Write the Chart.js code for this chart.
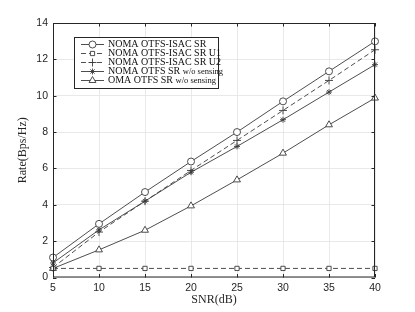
<!DOCTYPE html>
<html lang="en">
<head>
    <meta charset="UTF-8">
    <title>Rate vs SNR</title>
    <script src="https://cdn.jsdelivr.net/npm/chart.js"></script>
    <style>
        html, body { margin: 0; padding: 0; background: #fff; }
        #wrap { width: 415px; height: 312px; }
    </style>
</head>
<body>
    <div id="wrap"><canvas id="rateChart" width="415" height="312"></canvas></div>
    <script>
        // SNR points (dB)
        const snr = [5, 10, 15, 20, 25, 30, 35, 40];
        // rates (Bps/Hz)
        const nomaIsacSR = [1.1, 2.95, 4.7, 6.38, 8.0, 9.69, 11.34, 12.99];
        const nomaIsacU1 = [0.5, 0.5, 0.5, 0.5, 0.5, 0.5, 0.5, 0.5];
        const nomaIsacU2 = [0.55, 2.5, 4.2, 5.89, 7.54, 9.19, 10.84, 12.53];
        const nomaNoSense = [0.8, 2.62, 4.2, 5.79, 7.21, 8.68, 10.2, 11.71];
        const omaNoSense = [0.5, 1.52, 2.6, 3.94, 5.37, 6.84, 8.4, 9.87];
        const xTicks = [5, 10, 15, 20, 25, 30, 35, 40];
        const yTicks = [0, 2, 4, 6, 8, 10, 12, 14];

        const lineCol = '#3a3a3a';

        function series(label, values, style, dashed, radius) {
            return {
                label: label,
                data: snr.map((x, i) => ({ x: x, y: values[i] })),
                borderColor: lineCol,
                backgroundColor: '#fff',
                borderWidth: 0.9,
                borderDash: dashed ? [5, 3] : [],
                pointStyle: style,
                pointRadius: radius,
                pointBorderColor: lineCol,
                pointBackgroundColor: '#fff',
                pointBorderWidth: 0.9,
                tension: 0,
                fill: false,
                clip: false
            };
        }

        // box, inward ticks, titles and the legend
        const matlabLook = {
            id: 'matlabLook',
            afterDraw(chart) {
                const ctx = chart.ctx;
                const a = chart.chartArea;
                const xs = chart.scales.x, ys = chart.scales.y;
                ctx.save();
                ctx.strokeStyle = '#262626';
                ctx.lineWidth = 1;
                ctx.setLineDash([]);
                ctx.strokeRect(a.left + 0.5, a.top + 0.5, a.right - a.left - 1, a.bottom - a.top - 1);
                ctx.beginPath();
                xTicks.forEach(v => {
                    const px = Math.round(xs.getPixelForValue(v)) + 0.5;
                    ctx.moveTo(px, a.bottom); ctx.lineTo(px, a.bottom - 3.5);
                    ctx.moveTo(px, a.top); ctx.lineTo(px, a.top + 3.5);
                });
                yTicks.forEach(v => {
                    const py = Math.round(ys.getPixelForValue(v)) + 0.5;
                    ctx.moveTo(a.left, py); ctx.lineTo(a.left + 3.5, py);
                    ctx.moveTo(a.right, py); ctx.lineTo(a.right - 3.5, py);
                });
                ctx.stroke();

                // axis titles
                ctx.fillStyle = '#262626';
                ctx.font = '12px "Liberation Serif", "Times New Roman", serif';
                ctx.textAlign = 'center';
                ctx.textBaseline = 'middle';
                ctx.fillText('SNR(dB)', (a.left + a.right) / 2, 300);
                ctx.save();
                ctx.translate(23, (a.top + a.bottom) / 2);
                ctx.rotate(-Math.PI / 2);
                ctx.fillText('Rate(Bps/Hz)', 0, 0);
                ctx.restore();

                // legend
                const lx = 74, ly = 37, lw = 144, lh = 51;
                ctx.fillStyle = '#fff';
                ctx.fillRect(lx, ly, lw, lh);
                ctx.strokeStyle = '#262626';
                ctx.strokeRect(lx + 0.5, ly + 0.5, lw, lh);
                const rows = [
                    ['NOMA OTFS-ISAC SR', ''],
                    ['NOMA OTFS-ISAC SR U1', ''],
                    ['NOMA OTFS-ISAC SR U2', ''],
                    ['NOMA OTFS SR ', 'w/o sensing'],
                    ['OMA OTFS SR ', 'w/o sensing']
                ];
                chart.data.datasets.forEach((ds, i) => {
                    const y = ly + 7.5 + i * 9;
                    ctx.strokeStyle = lineCol;
                    ctx.lineWidth = 0.9;
                    ctx.setLineDash(ds.borderDash);
                    ctx.beginPath();
                    ctx.moveTo(81, y); ctx.lineTo(104, y);
                    ctx.stroke();
                    ctx.setLineDash([]);
                    ctx.fillStyle = '#fff';
                    Chart.helpers.drawPoint(ctx, {
                        pointStyle: ds.pointStyle, radius: ds.pointRadius,
                        rotation: 0, borderWidth: 0.9
                    }, 92.5, y);
                    ctx.fillStyle = '#111';
                    ctx.textAlign = 'left';
                    ctx.font = '10px "Liberation Serif", "Times New Roman", serif';
                    ctx.fillText(rows[i][0], 108, y);
                    if (rows[i][1]) {
                        const w = ctx.measureText(rows[i][0]).width;
                        ctx.font = '8.5px "Liberation Serif", "Times New Roman", serif';
                        ctx.fillText(rows[i][1], 108 + w, y);
                    }
                });
                ctx.restore();
            }
        };

        const ctx = document.getElementById('rateChart').getContext('2d');
        const rateChart = new Chart(ctx, {
            type: 'line',
            data: {
                datasets: [
                    series('NOMA OTFS-ISAC SR', nomaIsacSR, 'circle', false, 3.5),
                    series('NOMA OTFS-ISAC SR U1', nomaIsacU1, 'rect', true, 3),
                    series('NOMA OTFS-ISAC SR U2', nomaIsacU2, 'cross', true, 4),
                    series('NOMA OTFS SR w/o sensing', nomaNoSense, 'star', false, 3),
                    series('OMA OTFS SR w/o sensing', omaNoSense, 'triangle', false, 4)
                ]
            },
            plugins: [matlabLook],
            options: {
                responsive: false,
                animation: false,
                layout: { padding: { top: 23, right: 40, left: 0, bottom: 0 } },
                plugins: { legend: { display: false }, tooltip: { enabled: false } },
                scales: {
                    x: {
                        type: 'linear', min: 5, max: 40,
                        afterBuildTicks: s => { s.ticks = xTicks.map(v => ({ value: v })); },
                        afterFit: s => { s.height = 34.5; },
                        grid: { color: '#e3e3e3', lineWidth: 0.8, drawTicks: false },
                        border: { display: false },
                        ticks: { padding: 4, color: '#262626', font: { family: '"Liberation Sans", Arial, sans-serif', size: 10.5 } }
                    },
                    y: {
                        min: 0, max: 14,
                        afterBuildTicks: s => { s.ticks = yTicks.map(v => ({ value: v })); },
                        afterFit: s => { s.width = 53; },
                        grid: { color: '#e3e3e3', lineWidth: 0.8, drawTicks: false },
                        border: { display: false },
                        ticks: { padding: 5, color: '#262626', font: { family: '"Liberation Sans", Arial, sans-serif', size: 10.5 } }
                    }
                }
            }
        });
    </script>
</body>
</html>
